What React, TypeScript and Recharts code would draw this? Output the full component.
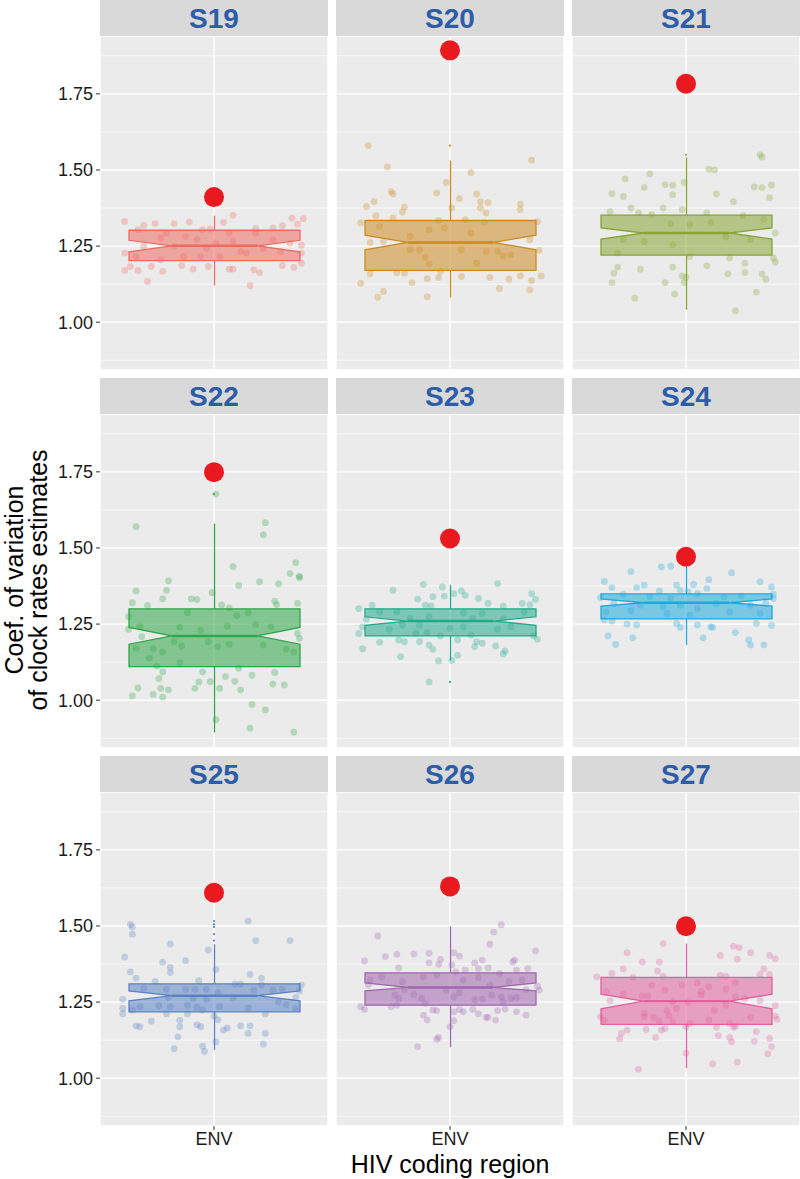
import React from 'react'
import { ComposedChart, Bar, Scatter, XAxis, YAxis, CartesianGrid } from 'recharts'

const panelNames = ['S19', 'S20', 'S21', 'S22', 'S23', 'S24', 'S25', 'S26', 'S27']
const regions = ['ENV']
const yTicks = [1, 1.25, 1.5, 1.75]
const yMinorTicks = [0.875, 1.125, 1.375, 1.625, 1.875]
const boxColors = ['#EE6B62', '#CD8A22', '#86A535', '#2EA647', '#22A98A', '#1EA9DD', '#5A82C4', '#A066AE', '#E1609E']

// boxplot stats, one entry per panel
const lowerWhisker = [1.121, 1.081, 1.041, 0.894, 1.13, 1.181, 1.093, 1.102, 1.033]
const lowerHinge = [1.202, 1.17, 1.22, 1.11, 1.211, 1.267, 1.218, 1.24, 1.177]
const notchLow = [1.231, 1.238, 1.273, 1.184, 1.246, 1.309, 1.254, 1.287, 1.228]
const medians = [1.251, 1.262, 1.293, 1.211, 1.26, 1.32, 1.271, 1.298, 1.253]
const notchHigh = [1.269, 1.286, 1.31, 1.239, 1.274, 1.333, 1.287, 1.313, 1.276]
const upperHinge = [1.302, 1.334, 1.352, 1.3, 1.3, 1.349, 1.31, 1.346, 1.331]
const upperWhisker = [1.35, 1.531, 1.541, 1.58, 1.378, 1.438, 1.44, 1.499, 1.442]
const observed = [1.411, 1.893, 1.783, 1.749, 1.531, 1.471, 1.609, 1.63, 1.499]
const outliers = [[], [1.58], [1.55], [1.677], [1.06], [], [1.452, 1.473, 1.497, 1.505, 1.516], [], []]

// jittered estimates: [horizontal offset, value]
const jitterS19 = [
  [-0.47, 1.331], [-0.37, 1.318], [-0.31, 1.324], [-0.21, 1.324], [-0.13, 1.329], [0.1, 1.351], [0.05, 1.328],
  [0.41, 1.342], [0.47, 1.34], [0.44, 1.322], [0.36, 1.317], [0.31, 1.31], [0.22, 1.308], [-0.06, 1.304],
  [-0.02, 1.306], [-0.4, 1.304], [-0.47, 1.17], [-0.44, 1.183], [-0.4, 1.17], [-0.35, 1.134], [-0.33, 1.183],
  [-0.27, 1.167], [-0.17, 1.186], [-0.11, 1.174], [-0.03, 1.183], [0.08, 1.174], [0.1, 1.174], [0.19, 1.12],
  [0.21, 1.172], [0.24, 1.163], [0.36, 1.186], [0.42, 1.18], [0.46, 1.194], [0.46, 1.227], [0.46, 1.253],
  [-0.47, 1.227], [-0.37, 1.249], [-0.28, 1.276], [-0.21, 1.249], [-0.15, 1.282], [-0.09, 1.271], [0.01, 1.26],
  [0.1, 1.265], [0.14, 1.232], [0.17, 1.227], [0.26, 1.243], [0.31, 1.271], [0.35, 1.232], [-0.07, 1.216],
  [-0.16, 1.216], [-0.28, 1.205], [-0.41, 1.216], [0.03, 1.216], [-0.04, 1.243], [-0.25, 1.293], [0.4, 1.26],
  [0.22, 1.293], [0.08, 1.293],
]
const jitterS20 = [
  [-0.43, 1.58], [-0.33, 1.51], [0.43, 1.532], [0.11, 1.492], [-0.02, 1.459], [-0.31, 1.429], [-0.3, 1.421],
  [-0.07, 1.424], [0.05, 1.406], [0.14, 1.421], [0.16, 1.396], [0.2, 1.393], [0.37, 1.388], [0.37, 1.37],
  [-0.4, 1.396], [-0.44, 1.38], [-0.24, 1.378], [-0.25, 1.362], [0.01, 1.375], [0.16, 1.375], [0.19, 1.359],
  [-0.39, 1.35], [-0.47, 1.326], [-0.3, 1.342], [-0.06, 1.334], [0.08, 1.337], [0.18, 1.328], [0.46, 1.33],
  [-0.37, 1.315], [-0.21, 1.282], [-0.11, 1.304], [-0.03, 1.309], [0.11, 1.293], [0.42, 1.271], [-0.42, 1.262],
  [-0.35, 1.265], [-0.21, 1.238], [-0.16, 1.238], [0.06, 1.238], [0.19, 1.232], [0.25, 1.232], [0.28, 1.218],
  [0.32, 1.221], [0.47, 1.236], [-0.13, 1.214], [-0.11, 1.192], [0.14, 1.194], [-0.42, 1.159], [-0.28, 1.163],
  [-0.24, 1.161], [-0.05, 1.167], [0.06, 1.15], [-0.06, 1.147], [-0.12, 1.143], [-0.2, 1.13], [-0.47, 1.128],
  [0.21, 1.147], [0.31, 1.141], [0.43, 1.137], [0.48, 1.152], [0.37, 1.152], [0.26, 1.111], [0.42, 1.106],
  [-0.35, 1.101], [-0.38, 1.082], [-0.12, 1.084],
]
const jitterS21 = [
  [0.39, 1.55], [0.4, 1.542], [0.12, 1.503], [0.15, 1.5], [-0.19, 1.487], [-0.32, 1.471], [-0.01, 1.459],
  [-0.11, 1.452], [-0.07, 1.45], [-0.22, 1.442], [0.36, 1.444], [0.4, 1.442], [0.45, 1.45], [-0.39, 1.422],
  [-0.33, 1.413], [-0.07, 1.419], [0.16, 1.421], [0.44, 1.409], [0.25, 1.396], [-0.29, 1.375], [-0.12, 1.375],
  [-0.02, 1.37], [-0.4, 1.363], [-0.25, 1.359], [-0.18, 1.353], [0.11, 1.359], [0.3, 1.35], [0.41, 1.337],
  [0.47, 1.293], [-0.08, 1.323], [0.02, 1.32], [0.13, 1.328], [-0.33, 1.271], [-0.22, 1.265], [-0.07, 1.254],
  [0.21, 1.28], [0.34, 1.271], [-0.36, 1.227], [0.02, 1.216], [0.23, 1.211], [0.46, 1.211], [0.47, 1.198],
  [0.31, 1.194], [-0.36, 1.181], [-0.24, 1.174], [-0.07, 1.181], [0.11, 1.185], [-0.38, 1.161], [0.31, 1.163],
  [0.22, 1.159], [0.4, 1.159], [0.42, 1.141], [-0.02, 1.152], [0.0, 1.148], [-0.39, 1.13], [-0.11, 1.13],
  [-0.01, 1.13], [0.37, 1.099], [-0.06, 1.092], [-0.27, 1.079], [0.26, 1.038],
]
const jitterS22 = [
  [0.01, 1.677], [-0.41, 1.57], [0.27, 1.583], [0.26, 1.543], [0.1, 1.439], [0.43, 1.452], [0.4, 1.416],
  [0.45, 1.407], [0.45, 1.403], [-0.24, 1.392], [-0.41, 1.359], [-0.25, 1.361], [0.13, 1.377], [0.24, 1.389],
  [0.34, 1.382], [-0.27, 1.333], [-0.12, 1.333], [-0.09, 1.331], [-0.01, 1.353], [-0.43, 1.32], [-0.35, 1.311],
  [0.32, 1.325], [0.33, 1.314], [0.44, 1.318], [0.04, 1.313], [0.08, 1.303], [-0.45, 1.274], [-0.14, 1.287],
  [0.12, 1.278], [0.18, 1.287], [-0.39, 1.243], [-0.18, 1.239], [-0.07, 1.23], [0.07, 1.243], [0.22, 1.249],
  [0.3, 1.241], [-0.45, 1.233], [0.44, 1.219], [0.45, 1.203], [-0.38, 1.209], [-0.21, 1.192], [-0.03, 1.192],
  [0.08, 1.184], [0.26, 1.181], [0.38, 1.167], [0.42, 1.158], [-0.41, 1.17], [-0.32, 1.17], [-0.27, 1.159],
  [-0.17, 1.178], [0.02, 1.176], [-0.34, 1.138], [-0.3, 1.112], [-0.18, 1.123], [0.13, 1.105], [-0.27, 1.093],
  [-0.06, 1.093], [0.32, 1.091], [-0.29, 1.071], [0.06, 1.078], [0.11, 1.062], [0.2, 1.082], [0.31, 1.053],
  [0.37, 1.05], [-0.08, 1.06], [-0.02, 1.061], [-0.1, 1.039], [0.03, 1.039], [0.14, 1.034], [-0.4, 1.04],
  [-0.43, 1.014], [-0.32, 1.019], [-0.28, 1.039], [-0.24, 1.034], [-0.27, 1.01], [0.2, 0.986], [0.27, 0.968],
  [0.01, 0.936], [0.19, 0.908], [0.42, 0.895],
]
const jitterS23 = [
  [0.25, 1.383], [-0.3, 1.361], [-0.14, 1.38], [-0.04, 1.372], [0.02, 1.35], [0.06, 1.359], [0.08, 1.344],
  [-0.03, 1.342], [-0.17, 1.332], [-0.09, 1.34], [0.15, 1.334], [0.43, 1.35], [0.45, 1.331], [0.2, 1.318],
  [0.28, 1.309], [0.38, 1.318], [0.42, 1.314], [-0.41, 1.312], [-0.48, 1.301], [-0.13, 1.312], [-0.1, 1.31],
  [-0.37, 1.29], [-0.28, 1.29], [0.07, 1.287], [0.17, 1.285], [0.39, 1.29], [-0.21, 1.269], [-0.11, 1.274],
  [0.12, 1.269], [0.28, 1.267], [-0.44, 1.266], [-0.46, 1.241], [-0.25, 1.247], [-0.16, 1.247], [0.0, 1.236],
  [0.07, 1.241], [0.25, 1.233], [0.32, 1.241], [-0.32, 1.233], [-0.48, 1.219], [-0.18, 1.219], [-0.12, 1.222],
  [-0.05, 1.211], [0.11, 1.214], [0.44, 1.211], [0.46, 1.2], [-0.27, 1.198], [-0.24, 1.192], [-0.37, 1.19],
  [-0.16, 1.192], [0.04, 1.198], [0.14, 1.192], [0.17, 1.187], [-0.11, 1.181], [0.13, 1.176], [0.24, 1.178],
  [-0.46, 1.169], [-0.09, 1.167], [0.29, 1.162], [0.28, 1.152], [0.04, 1.148], [-0.26, 1.143], [-0.06, 1.129],
  [0.01, 1.13], [-0.11, 1.06],
]
const jitterS24 = [
  [-0.29, 1.422], [-0.13, 1.438], [-0.08, 1.44], [0.24, 1.419], [0.12, 1.396], [-0.43, 1.39], [0.39, 1.389],
  [-0.39, 1.37], [-0.26, 1.37], [-0.22, 1.378], [-0.05, 1.378], [0.04, 1.38], [0.11, 1.367], [0.45, 1.372],
  [-0.14, 1.359], [-0.03, 1.361], [0.01, 1.356], [0.06, 1.35], [-0.33, 1.348], [-0.45, 1.337], [-0.19, 1.34],
  [-0.08, 1.334], [0.2, 1.34], [0.29, 1.342], [0.46, 1.348], [0.46, 1.334], [-0.38, 1.318], [-0.24, 1.312],
  [-0.12, 1.307], [-0.03, 1.312], [0.06, 1.301], [0.16, 1.318], [0.34, 1.312], [0.42, 1.318], [-0.42, 1.29],
  [-0.29, 1.294], [-0.1, 1.285], [0.02, 1.279], [0.23, 1.29], [0.39, 1.285], [-0.43, 1.263], [-0.39, 1.26],
  [-0.31, 1.25], [-0.26, 1.247], [-0.05, 1.252], [0.06, 1.247], [0.13, 1.241], [0.14, 1.239], [0.37, 1.252],
  [0.45, 1.246], [-0.03, 1.239], [0.26, 1.222], [-0.41, 1.211], [-0.28, 1.205], [0.09, 1.205], [0.33, 1.198],
  [-0.37, 1.183], [0.34, 1.181], [0.41, 1.182],
]
const jitterS25 = [
  [-0.44, 1.505], [-0.43, 1.497], [-0.43, 1.473], [0.18, 1.516], [0.22, 1.452], [0.4, 1.452], [-0.23, 1.441],
  [-0.03, 1.421], [-0.47, 1.398], [-0.27, 1.381], [-0.23, 1.364], [-0.15, 1.386], [-0.44, 1.349], [-0.23, 1.347],
  [0.01, 1.357], [0.19, 1.341], [0.25, 1.329], [-0.41, 1.329], [-0.08, 1.32], [-0.31, 1.318], [0.11, 1.309],
  [0.14, 1.309], [0.25, 1.306], [0.46, 1.306], [-0.37, 1.295], [-0.25, 1.292], [-0.15, 1.292], [-0.1, 1.292],
  [-0.04, 1.292], [0.21, 1.289], [0.31, 1.289], [0.36, 1.292], [0.45, 1.286], [0.02, 1.281], [-0.24, 1.265],
  [-0.11, 1.262], [-0.04, 1.259], [0.1, 1.263], [0.34, 1.25], [0.43, 1.265], [-0.48, 1.259], [-0.48, 1.229],
  [-0.48, 1.211], [-0.39, 1.235], [-0.29, 1.238], [-0.23, 1.235], [-0.14, 1.24], [-0.09, 1.233], [0.03, 1.235],
  [0.18, 1.231], [0.38, 1.242], [0.43, 1.229], [-0.43, 1.224], [-0.06, 1.224], [-0.25, 1.211], [-0.14, 1.211],
  [0.27, 1.211], [0.0, 1.204], [0.02, 1.192], [-0.33, 1.187], [-0.18, 1.19], [-0.41, 1.172], [-0.39, 1.169],
  [-0.18, 1.169], [-0.09, 1.175], [-0.07, 1.169], [0.07, 1.165], [0.05, 1.158], [0.14, 1.172], [0.19, 1.172],
  [0.18, 1.147], [0.27, 1.147], [-0.19, 1.136], [0.01, 1.119], [0.26, 1.112], [-0.21, 1.097], [-0.06, 1.105],
  [-0.05, 1.088],
]
const jitterS26 = [
  [0.27, 1.504], [0.23, 1.48], [-0.38, 1.467], [0.21, 1.44], [0.45, 1.418], [0.02, 1.412], [0.05, 1.401],
  [-0.34, 1.4], [-0.28, 1.407], [-0.19, 1.408], [-0.11, 1.41], [-0.05, 1.39], [-0.45, 1.385], [-0.11, 1.379],
  [-0.06, 1.374], [0.01, 1.373], [0.13, 1.379], [0.17, 1.388], [0.33, 1.382], [0.34, 1.388], [-0.27, 1.362],
  [0.08, 1.355], [0.15, 1.36], [0.2, 1.362], [0.35, 1.355], [0.41, 1.36], [0.03, 1.349], [-0.14, 1.333],
  [-0.07, 1.338], [0.26, 1.344], [0.15, 1.331], [-0.42, 1.322], [-0.36, 1.333], [-0.25, 1.317], [0.07, 1.322],
  [0.31, 1.317], [0.38, 1.322], [-0.43, 1.306], [0.21, 1.306], [-0.24, 1.291], [-0.02, 1.289], [0.46, 1.302],
  [0.47, 1.289], [0.4, 1.291], [-0.29, 1.273], [-0.19, 1.275], [0.05, 1.281], [0.02, 1.267], [0.22, 1.273],
  [0.27, 1.267], [0.35, 1.265], [-0.27, 1.262], [-0.15, 1.262], [0.13, 1.257], [0.17, 1.26], [-0.13, 1.246],
  [0.28, 1.251], [0.32, 1.262], [-0.47, 1.235], [-0.45, 1.226], [-0.31, 1.235], [-0.28, 1.24], [-0.09, 1.224],
  [-0.07, 1.222], [0.02, 1.218], [0.05, 1.226], [0.07, 1.218], [0.12, 1.226], [0.25, 1.222], [0.29, 1.227],
  [0.35, 1.218], [0.15, 1.211], [0.4, 1.207], [-0.14, 1.207], [0.19, 1.2], [0.2, 1.2], [0.24, 1.191],
  [-0.12, 1.191], [0.02, 1.189], [0.0, 1.169], [-0.06, 1.134], [-0.07, 1.128], [-0.17, 1.104],
]
const jitterS27 = [
  [-0.12, 1.442], [0.25, 1.433], [0.28, 1.429], [-0.31, 1.412], [0.34, 1.412], [0.18, 1.403], [0.44, 1.403],
  [0.47, 1.392], [0.27, 1.391], [-0.23, 1.382], [-0.14, 1.382], [-0.33, 1.359], [0.41, 1.359], [-0.15, 1.352],
  [-0.47, 1.333], [-0.39, 1.344], [0.39, 1.341], [0.44, 1.341], [-0.28, 1.331], [-0.12, 1.335], [0.18, 1.338],
  [0.21, 1.335], [0.06, 1.313], [0.26, 1.313], [-0.18, 1.306], [-0.02, 1.306], [0.12, 1.3], [0.21, 1.293],
  [-0.11, 1.289], [0.08, 1.284], [-0.42, 1.284], [-0.33, 1.276], [-0.23, 1.27], [-0.2, 1.27], [0.08, 1.273],
  [0.26, 1.267], [0.31, 1.262], [-0.4, 1.254], [-0.07, 1.251], [0.01, 1.248], [0.39, 1.254], [0.21, 1.24],
  [0.47, 1.238], [-0.05, 1.229], [0.15, 1.222], [-0.22, 1.213], [-0.1, 1.222], [-0.22, 1.202], [-0.17, 1.2],
  [-0.09, 1.204], [-0.45, 1.202], [0.47, 1.204], [0.48, 1.193], [0.34, 1.2], [-0.43, 1.191], [-0.14, 1.188],
  [-0.07, 1.186], [0.02, 1.18], [0.12, 1.191], [0.23, 1.18], [0.0, 1.169], [0.16, 1.167], [0.25, 1.167],
  [0.26, 1.171], [-0.31, 1.158], [-0.21, 1.16], [-0.13, 1.158], [-0.11, 1.163], [-0.34, 1.147], [-0.35, 1.129],
  [-0.16, 1.134], [0.17, 1.14], [0.23, 1.134], [0.24, 1.119], [0.37, 1.153], [0.36, 1.121], [0.44, 1.131],
  [0.45, 1.104], [0.43, 1.08], [0.0, 1.082], [0.14, 1.047], [0.27, 1.053], [-0.25, 1.029],
]
const jitter = [jitterS19, jitterS20, jitterS21, jitterS22, jitterS23, jitterS24, jitterS25, jitterS26, jitterS27]

// layout
const COL_X = [100, 336, 572]
const ROW_Y = [0, 378, 756]
const STRIP_H = 36
const PLOT_W = 228
const PLOT_H = 334
const Y_AXIS_W = 100
const X_AXIS_H = 34
const BOX_W = 171
const Y_DOMAIN = [0.843, 1.94]
const X_DOMAIN = [0.4, 1.6]
const FONT = '"Liberation Sans", Arial, Helvetica, sans-serif'

function NotchedBox(props: any) {
  const { x, y, width, height, payload, color } = props
  const top = Math.min(y, y + height)
  const h = Math.abs(height)
  const k = h / (payload.q3 - payload.q1)
  const py = (v: number) => top + (payload.q3 - v) * k
  const x0 = x
  const x1 = x + width
  const cx = x + width / 2
  const ind = width * 0.25
  const yM = py(payload.med)
  const pts = [
    [x0, py(payload.q3)], [x0, py(payload.nHi)], [x0 + ind, yM], [x0, py(payload.nLo)], [x0, py(payload.q1)],
    [x1, py(payload.q1)], [x1, py(payload.nLo)], [x1 - ind, yM], [x1, py(payload.nHi)], [x1, py(payload.q3)],
  ]
  return (
    <g>
      <line x1={cx} x2={cx} y1={py(payload.wHi)} y2={py(payload.q3)} stroke={color} strokeWidth={1.3} />
      <line x1={cx} x2={cx} y1={py(payload.q1)} y2={py(payload.wLo)} stroke={color} strokeWidth={1.3} />
      <polygon points={pts.map((p) => p.join(',')).join(' ')} fill={color} fillOpacity={0.55} stroke={color} strokeWidth={1.3} />
      <line x1={x0 + ind} x2={x1 - ind} y1={yM} y2={yM} stroke={color} strokeWidth={2.4} />
    </g>
  )
}

function Panel({ i }: { i: number }) {
  const col = i % 3
  const row = Math.floor(i / 3)
  const showY = col === 0
  const showX = row === 2
  const color = boxColors[i]
  const left = showY ? Y_AXIS_W : 0

  const boxData = [{
    region: regions[0],
    box: [lowerHinge[i], upperHinge[i]],
    q1: lowerHinge[i], q3: upperHinge[i], med: medians[i],
    nLo: notchLow[i], nHi: notchHigh[i], wLo: lowerWhisker[i], wHi: upperWhisker[i],
  }]
  const points = jitter[i].map(([dx, v]) => ({ x: 1 + dx, y: v }))
  const outlierPoints = outliers[i].map((v) => ({ x: 1, y: v }))
  const observedPoint = [{ x: 1, y: observed[i] }]

  return (
    <>
      <div
        style={{
          position: 'absolute', left: COL_X[col], top: ROW_Y[row], width: PLOT_W, height: STRIP_H,
          background: '#D9D9D9', color: '#2D5DA8', fontFamily: FONT, fontWeight: 'bold', fontSize: 28,
          lineHeight: `${STRIP_H}px`, textAlign: 'center', paddingTop: 1, boxSizing: 'border-box',
        }}
      >
        {panelNames[i]}
      </div>
      <div style={{ position: 'absolute', left: COL_X[col] - left, top: ROW_Y[row] + STRIP_H }}>
        <div style={{ position: 'absolute', left, top: 0, width: PLOT_W, height: PLOT_H, background: '#EBEBEB' }} />
        <ComposedChart
          width={PLOT_W + left}
          height={PLOT_H + (showX ? X_AXIS_H : 0)}
          data={boxData}
          margin={{ top: 0, right: 0, bottom: 0, left: 0 }}
        >
          <XAxis
            xAxisId="cat"
            dataKey="region"
            type="category"
            hide={!showX}
            height={X_AXIS_H}
            axisLine={false}
            tickSize={4}
            tickMargin={2}
            tickLine={{ stroke: '#333333' }}
            tick={{ fill: '#1a1a1a', fontSize: 18, fontFamily: FONT }}
          />
          <XAxis xAxisId="num" dataKey="x" type="number" domain={X_DOMAIN} allowDataOverflow hide height={0} />
          <YAxis
            yAxisId="y"
            type="number"
            domain={Y_DOMAIN}
            ticks={yTicks}
            interval={0}
            allowDataOverflow
            hide={!showY}
            width={showY ? Y_AXIS_W : 0}
            axisLine={false}
            tickSize={4}
            tickMargin={3}
            tickLine={{ stroke: '#333333' }}
            tickFormatter={(v: number) => v.toFixed(2)}
            tick={{ fill: '#1a1a1a', fontSize: 18, fontFamily: FONT }}
          />
          <YAxis yAxisId="minor" type="number" domain={Y_DOMAIN} ticks={yMinorTicks} interval={0} allowDataOverflow hide width={0} />
          <CartesianGrid xAxisId="cat" yAxisId="minor" vertical={false} stroke="#ffffff" strokeWidth={0.7} />
          <CartesianGrid xAxisId="cat" yAxisId="y" stroke="#ffffff" strokeWidth={1.4} />
          <Bar
            xAxisId="cat"
            yAxisId="y"
            dataKey="box"
            barSize={BOX_W}
            isAnimationActive={false}
            shape={(p: any) => <NotchedBox {...p} color={color} />}
          />
          <Scatter
            xAxisId="num"
            yAxisId="y"
            data={points}
            dataKey="y"
            isAnimationActive={false}
            shape={(p: any) => <circle cx={p.cx} cy={p.cy} r={3.4} fill={color} fillOpacity={0.3} />}
          />
          {outlierPoints.length > 0 && (
            <Scatter
              xAxisId="num"
              yAxisId="y"
              data={outlierPoints}
              dataKey="y"
              isAnimationActive={false}
              shape={(p: any) => <circle cx={p.cx} cy={p.cy} r={1.1} fill={color} />}
            />
          )}
          <Scatter
            xAxisId="num"
            yAxisId="y"
            data={observedPoint}
            dataKey="y"
            isAnimationActive={false}
            shape={(p: any) => <circle cx={p.cx} cy={p.cy} r={10} fill="#E8191F" />}
          />
        </ComposedChart>
      </div>
    </>
  )
}

export default function App() {
  return (
    <div style={{ position: 'relative', width: 800, height: 1179, background: '#fff', overflow: 'hidden' }}>
      <style>{'body{margin:0}'}</style>
      {panelNames.map((_, i) => (
        <Panel key={i} i={i} />
      ))}
      <svg width={800} height={1179} style={{ position: 'absolute', left: 0, top: 0, pointerEvents: 'none' }}>
        <g fontFamily={FONT} fontSize={25} fill="#000" textAnchor="middle">
          <text transform="rotate(-90)" x={-580} y={23}>Coef. of variation</text>
          <text transform="rotate(-90)" x={-580} y={47}>of clock rates estimates</text>
          <text x={450} y={1173}>HIV coding region</text>
        </g>
      </svg>
    </div>
  )
}
